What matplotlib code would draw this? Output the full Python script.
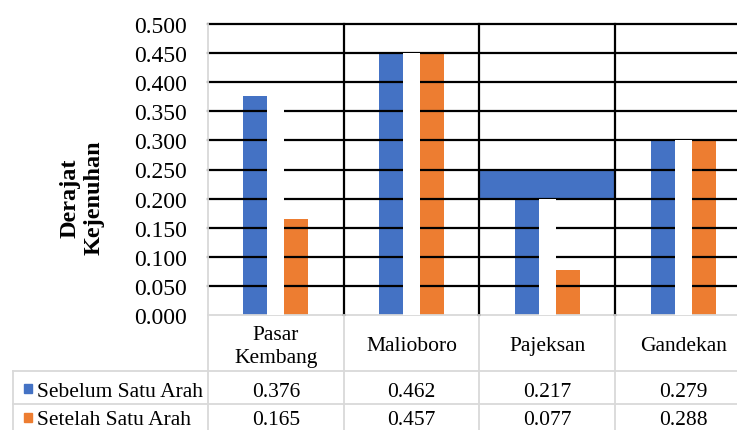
import matplotlib
matplotlib.use("Agg")
import matplotlib.pyplot as plt
from matplotlib.lines import Line2D
from matplotlib.patches import Rectangle
import matplotlib.transforms as mtransforms

plt.rcParams['font.family'] = ['Liberation Serif', 'DejaVu Serif']

# ---------------- data ----------------
categories = ["Pasar\nKembang", "Malioboro", "Pajeksan", "Gandekan"]
series_names = ["Sebelum Satu Arah", "Setelah Satu Arah"]
# bar heights as drawn in the picture
bar_sebelum = [0.376, 0.450, 0.200, 0.300]
bar_setelah = [0.165, 0.450, 0.077, 0.300]
# values written in the data table
tabel_sebelum = ["0.376", "0.462", "0.217", "0.279"]
tabel_setelah = ["0.165", "0.457", "0.077", "0.288"]
# stray blue band drawn across the Pajeksan column
band_category = 2
band_bottom = 0.200
band_top = 0.250
yticks = [0.0, 0.05, 0.10, 0.15, 0.20, 0.25, 0.30, 0.35, 0.40, 0.45, 0.50]
ylabel = "Derajat\nKejenuhan"

BLUE = "#4472C4"
ORANGE = "#ED7D31"
GRAY = "#D9D9D9"

W, H = 737, 431
fig = plt.figure(figsize=(W / 100, H / 100), dpi=100)


def fx(px):
    return px / W


def fy(py):
    return 1 - py / H


ax = fig.add_axes([fx(208), fy(316), fx(751) - fx(208), fy(25) - fy(316)])
ax.set_xlim(-0.5, 3.5)
ax.set_ylim(0, 0.5)

bw = 0.177
off = 0.151
xs = list(range(len(categories)))

ax.bar([x - off for x in xs], bar_sebelum, width=bw, color=BLUE, zorder=1)
ax.bar([x + off for x in xs], bar_setelah, width=bw, color=ORANGE, zorder=1)
ax.bar([band_category], [band_top - band_bottom], bottom=[band_bottom],
       width=1.0, color=BLUE, zorder=1)

# horizontal gridlines (black)
for v in yticks[1:]:
    ax.axhline(v, color="black", lw=1.6, zorder=2, clip_on=False)

# white gaps between the paired bars cover the gridlines
gap = 2 * off - bw
ax.bar(xs, bar_sebelum, width=gap, color="white", zorder=3)

# black category separators
for b in [0.5, 1.5, 2.5]:
    ax.plot([b, b], [0, 0.5], color="black", lw=1.6, zorder=4, clip_on=False)

ax.set_yticks(yticks)
ax.set_yticklabels([f"{v:.3f}" for v in yticks], fontsize=17)
ax.tick_params(axis="y", length=0, pad=15)
ax.set_xticks([])
for s in ["top", "right", "left"]:
    ax.spines[s].set_visible(False)
ax.spines["bottom"].set_color(GRAY)
ax.spines["bottom"].set_linewidth(1.3)

# y label
fig.text(fx(82), fy(198), ylabel, rotation=90, ha="center", va="center",
         fontsize=17.5, fontweight="bold", linespacing=1.2,
         multialignment="center")

# ---------------- data table ----------------
blend = mtransforms.blended_transform_factory(ax.transData, fig.transFigure)


def fline(x0, y0, x1, y1):
    fig.add_artist(Line2D([fx(x0), fx(x1)], [fy(y0), fy(y1)], color=GRAY,
                          lw=1.3, transform=fig.transFigure))


fline(208, 25, 208, H + 10)
fline(13, 372, 751, 372)
fline(13, 405, 751, 405)
fline(13, 372, 13, H + 10)
for b in [0.5, 1.5, 2.5]:
    fig.add_artist(Line2D([b, b], [fy(316), fy(H + 10)], color=GRAY, lw=1.3,
                          transform=blend))

for x, c in zip(xs, categories):
    fig.text(x, fy(347), c, transform=blend, ha="center", va="center",
             fontsize=15.5, linespacing=1.25, multialignment="center")

row1_base, row2_base = 397, 425.5
for x, v in zip(xs, tabel_sebelum):
    fig.text(x, fy(row1_base), v, transform=blend, ha="center", va="baseline",
             fontsize=15.5)
for x, v in zip(xs, tabel_setelah):
    fig.text(x, fy(row2_base), v, transform=blend, ha="center", va="baseline",
             fontsize=15.5)

for name, col, base in [(series_names[0], BLUE, row1_base),
                        (series_names[1], ORANGE, row2_base)]:
    fig.add_artist(Rectangle((fx(24), fy(base - 3)), fx(8), fy(0) - fy(9),
                             color=col, transform=fig.transFigure))
    fig.text(fx(37), fy(base), name, ha="left", va="baseline", fontsize=15.5)

fig.savefig("out.png", dpi=100)
